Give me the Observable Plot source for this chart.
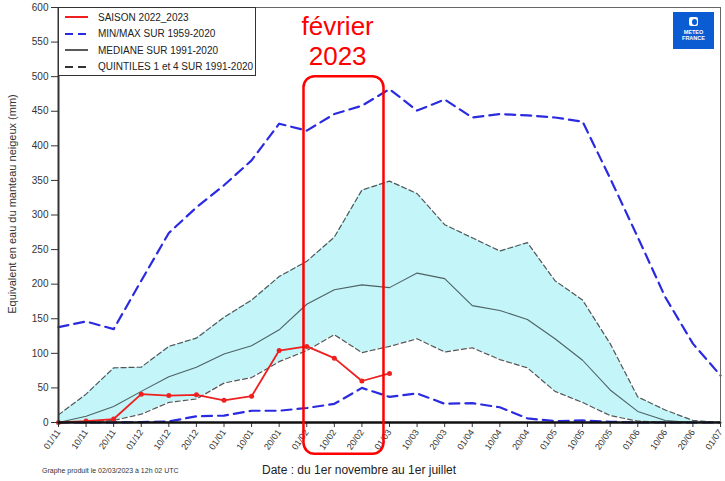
<!DOCTYPE html>
<html><head><meta charset="utf-8">
<script src="https://cdn.jsdelivr.net/npm/d3@7"></script>
<script src="https://cdn.jsdelivr.net/npm/@observablehq/plot@0.6"></script>
<style>
body{margin:0;background:#fff;font-family:"Liberation Sans",Arial,sans-serif;}
#wrap{position:relative;width:725px;height:481px;overflow:hidden;background:#fff;}
#wrap > svg{position:absolute;left:0;top:0;}
.legend{position:absolute;left:58px;top:7px;width:198px;height:69px;border:1px solid #333;background:#fff;box-sizing:border-box;}
.legend .row{position:absolute;left:6px;height:14px;display:flex;align-items:center;font-size:10px;color:#222;white-space:nowrap;}
.legend .row svg{margin-right:10px;}
.logo{position:absolute;left:673px;top:12px;width:41px;height:37px;background:#0b5bd3;color:#fff;text-align:center;font-weight:bold;font-size:5.5px;line-height:6px;}
.logo .ic{width:9px;height:9px;background:#fff;border-radius:2px;margin:5px auto 3px;position:relative;}
.logo .ic:after{content:"";position:absolute;left:3px;top:1.5px;width:5px;height:6px;border-radius:50%;background:#0b5bd3;}
.caption{position:absolute;left:42px;top:467px;font-size:7px;color:#333;}
.xlab{position:absolute;left:262px;top:463px;font-size:12px;color:#222;white-space:nowrap;}
.ylab{position:absolute;left:12px;top:204px;font-size:11px;color:#333;white-space:nowrap;transform:translate(-50%,-50%) rotate(-90deg);}
</style></head><body><div id="wrap"></div>
<script>
const xLabels = ["01/11","10/11","20/11","01/12","10/12","20/12","01/01","10/01","20/01","01/02","10/02","20/02","01/03","10/03","20/03","01/04","10/04","20/04","01/05","10/05","20/05","01/06","10/06","20/06","01/07"];
const saison  = [0,2,5,41,39,40,32,38,104,110,93,60,71];
const mediane = [0,9,23,45,66,80,99,111,134,171,192,199,195,216,208,169,162,149,121,90,47,16,3,0,0];
const quintile1 = [0,1,3,12,29,34,57,65,88,104,127,101,110,121,102,108,91,79,45,29,10,2,0.5,0,0];
const quintile4 = [11,41,79,80,110,122,152,177,211,233,268,336,349,331,286,267,248,260,205,177,114,37,18,3,0];
const minSerie = [0,0,0,0.5,1.5,9,10,17,17,21,27,50,37,42,27,28,22,6,2,3,1,0,0,0,0];
const maxSerie = [138,146,135,205,274,311,343,379,432,422,446,458,482,451,467,441,446,444,441,435,353,268,181,114,68];
const yTicks = d3.range(0, 601, 50);
const legendItems = ["SAISON 2022_2023","MIN/MAX SUR 1959-2020","MEDIANE SUR 1991-2020","QUINTILES 1 et 4 SUR 1991-2020"];
const annotLabel = "février\n2023";

const BLUE = "#2a2ae0", RED = "#ee2020";
const n = xLabels.length;
const rows = xLabels.map((lab, i) => ({i, lab, med: mediane[i], q1: quintile1[i], q4: quintile4[i], min: minSerie[i], max: maxSerie[i]}));
const rowsS = saison.map((v, i) => ({i, v}));
// highlight box around February (index units of the x scale)
const annot = {x1: 8.9, x2: 11.8, y1: -46, y2: 500, tx: 10.12, ty: 552, label: annotLabel};

const chart = Plot.plot({
  width: 725, height: 481,
  marginLeft: 58, marginRight: 5, marginTop: 7, marginBottom: 59,
  style: {fontFamily: '"Liberation Sans", Arial, sans-serif', fontSize: "10px", color: "#333", background: "transparent"},
  x: {type: "linear", domain: [0, n - 1]},
  y: {domain: [0, 600]},
  marks: [
    Plot.areaY(rows, {x: "i", y1: "q1", y2: "q4", fill: "#c3f5f9"}),
    Plot.lineY(rows, {x: "i", y: "max", stroke: BLUE, strokeWidth: 2.2, strokeDasharray: "10,6"}),
    Plot.lineY(rows, {x: "i", y: "min", stroke: BLUE, strokeWidth: 2.2, strokeDasharray: "10,6"}),
    Plot.lineY(rows, {x: "i", y: "q1", stroke: "#555", strokeWidth: 1.2, strokeDasharray: "5,3"}),
    Plot.lineY(rows, {x: "i", y: "q4", stroke: "#555", strokeWidth: 1.2, strokeDasharray: "5,3"}),
    Plot.lineY(rows, {x: "i", y: "med", stroke: "#4f6263", strokeWidth: 1.1}),
    Plot.lineY(rowsS, {x: "i", y: "v", stroke: RED, strokeWidth: 1.8}),
    Plot.dot(rowsS, {x: "i", y: "v", r: 2.5, fill: RED}),
    Plot.frame({stroke: "#666", strokeWidth: 1}),
    Plot.axisY({ticks: yTicks, tickSize: 7, tickPadding: 3, fontSize: 10, label: null}),
    Plot.axisX({ticks: d3.range(n), tickFormat: i => xLabels[i], tickSize: 5, tickPadding: 3, tickRotate: -55, fontSize: 9, label: null}),
    Plot.ruleX([0], {stroke: "#333", strokeWidth: 2}),
    Plot.ruleY([0], {stroke: "#111", strokeWidth: 2.5}),
    Plot.rect([annot], {x1: "x1", x2: "x2", y1: "y1", y2: "y2", stroke: "#ff0000", strokeWidth: 2.5, fill: "none", rx: 11}),
    Plot.text([annot], {x: "tx", y: "ty", text: "label", fill: "#ff0000", fontSize: 26, lineHeight: 1.15, lineAnchor: "middle"})
  ]
});
const wrap = document.getElementById("wrap");
wrap.appendChild(chart);

// legend
const leg = document.createElement("div");
leg.className = "legend";
const samples = [
  {stroke: RED, dash: null, w: 2},
  {stroke: BLUE, dash: "8,5", w: 2},
  {stroke: "#222", dash: null, w: 1.5},
  {stroke: "#333", dash: "8,5", w: 2}
];
legendItems.forEach((t, k) => {
  const r = document.createElement("div");
  r.className = "row";
  r.style.top = (2 + k * 16.5) + "px";
  const s = samples[k];
  r.innerHTML = `<svg width="23" height="6"><line x1="0" y1="3" x2="23" y2="3" stroke="${s.stroke}" stroke-width="${s.w}" ${s.dash ? `stroke-dasharray="${s.dash}"` : ""}/></svg>`;
  const sp = document.createElement("span");
  sp.textContent = t;
  r.appendChild(sp);
  leg.appendChild(r);
});
wrap.appendChild(leg);

const logo = document.createElement("div");
logo.className = "logo";
logo.innerHTML = '<div class="ic"></div>METEO<br>FRANCE';
wrap.appendChild(logo);

const cap = document.createElement("div");
cap.className = "caption";
cap.textContent = "Graphe produit le 02/03/2023 à 12h 02 UTC";
wrap.appendChild(cap);

const xl = document.createElement("div");
xl.className = "xlab";
xl.textContent = "Date : du 1er novembre au 1er juillet";
wrap.appendChild(xl);

const yl = document.createElement("div");
yl.className = "ylab";
yl.textContent = "Equivalent en eau du manteau neigeux (mm)";
wrap.appendChild(yl);
</script>
</body></html>
